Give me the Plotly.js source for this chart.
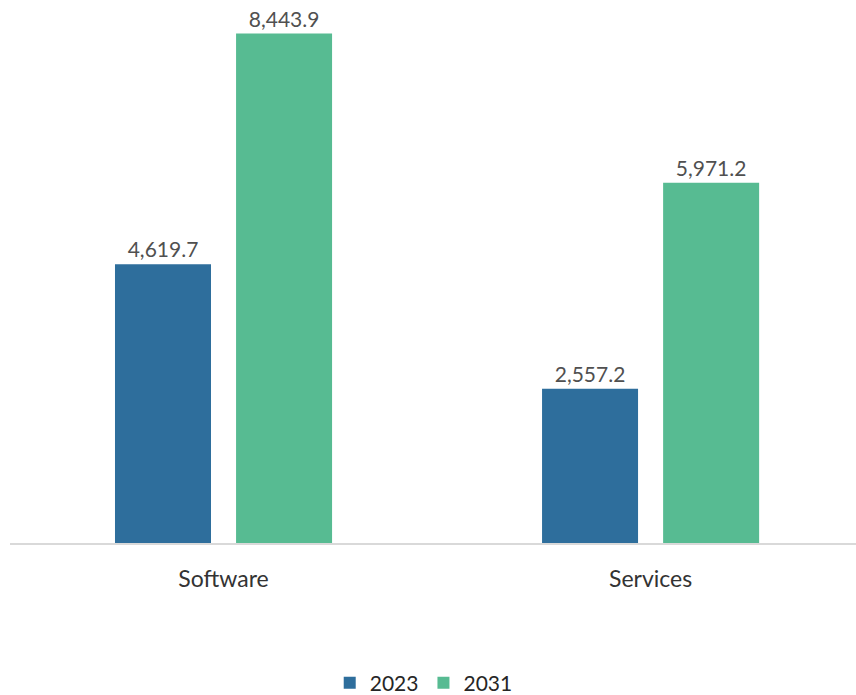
<!DOCTYPE html>
<html>
<head>
<meta charset="utf-8">
<script src="https://cdn.plot.ly/plotly-3.0.1.min.js"></script>
<style>html,body{margin:0;padding:0;background:#fff;}#chart{width:856px;height:695px;}</style>
</head>
<body>
<div id="chart"></div>
<script>
const categories = ["Software", "Services"];
const values2023 = [4619.7, 2557.2];
const values2031 = [8443.9, 5971.2];
const seriesNames = ["2023", "2031"];

const fmt = v => v.toLocaleString("en-US", {minimumFractionDigits: 1, maximumFractionDigits: 1});

const labelFont = {color: "#505050", size: 21, family: "Lato"};

const traces = [
  {type: "bar", name: seriesNames[0], x: categories, y: values2023,
   marker: {color: "#2E6E9C"}, text: values2023.map(fmt), textposition: "outside",
   cliponaxis: false, textfont: labelFont, hoverinfo: "none"},
  {type: "bar", name: seriesNames[1], x: categories, y: values2031,
   marker: {color: "#57BB92"}, text: values2031.map(fmt), textposition: "outside",
   cliponaxis: false, textfont: labelFont, hoverinfo: "none"}
];

const layout = {
  width: 856, height: 695,
  margin: {l: 10, r: 0, t: 0, b: 152, autoexpand: false},
  paper_bgcolor: "#fff", plot_bgcolor: "#fff",
  font: {family: "Lato", color: "#404040", size: 18},
  barmode: "group", bargap: 0.433, bargroupgap: 0.207,
  xaxis: {range: [-0.5, 1.481], showline: true, linecolor: "#d9d9d9", linewidth: 1.5,
          ticks: "", ticklabelstandoff: 15, tickfont: {size: 23, color: "#333333", family: "Lato"},
          showgrid: false, zeroline: false, fixedrange: true},
  yaxis: {range: [0, 9000], visible: false, showgrid: false, zeroline: false, fixedrange: true},
  showlegend: true,
  legend: {orientation: "h", xref: "container", x: 0.495, xanchor: "center", y: -0.258, yanchor: "middle",
           font: {size: 21, color: "#262626", family: "Lato"}, itemwidth: 30, traceorder: "normal"}
};

Plotly.newPlot("chart", traces, layout, {displayModeBar: false, staticPlot: true});
</script>
</body>
</html>
